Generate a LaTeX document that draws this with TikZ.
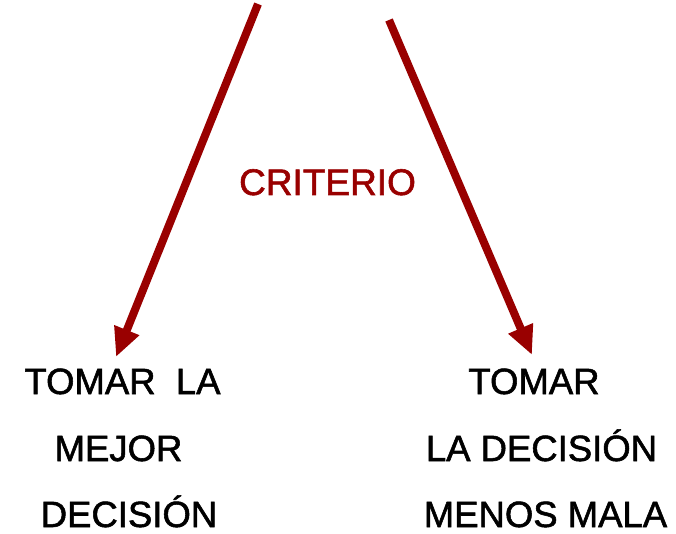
\documentclass[tikz,border=0pt]{standalone}
\usepackage{fontspec}
\setmainfont{Liberation Sans}[FakeBold=1.5]
\usetikzlibrary{arrows.meta}
\definecolor{darkred}{RGB}{153,0,0}
\begin{document}
\begin{tikzpicture}[x=1pt,y=-1pt,
  lbl/.style={anchor=base,inner sep=0pt,font=\fontsize{36.5}{40}\selectfont},
  crit/.style={anchor=base,inner sep=0pt,text=darkred,font=\fontsize{37}{40}\selectfont},
  arr/.style={draw=darkred,line width=8pt,-{Triangle[length=29pt,width=25pt]}}]
\useasboundingbox (0,0) rectangle (676,534);
\coordinate (ls) at (258,4);
\coordinate (le) at (116,357);
\coordinate (rs) at (389,20);
\coordinate (re) at (532,355);
\draw[arr] (ls) -- (le);
\draw[arr] (rs) -- (re);
\node[crit] (crit) at (327.5,195) {CRITERIO};
\node[lbl] (l1) at (122.5,394) {TOMAR\ \ LA};
\node[lbl] (l2) at (118.5,461) {MEJOR};
\node[lbl] (l3) at (129,527) {DECISIÓN};
\node[lbl] (r1) at (534,394) {TOMAR};
\node[lbl] (r2) at (541.5,461) {LA DECISIÓN};
\node[lbl] (r3) at (545.5,527) {MENOS MALA};
\end{tikzpicture}
\end{document}
